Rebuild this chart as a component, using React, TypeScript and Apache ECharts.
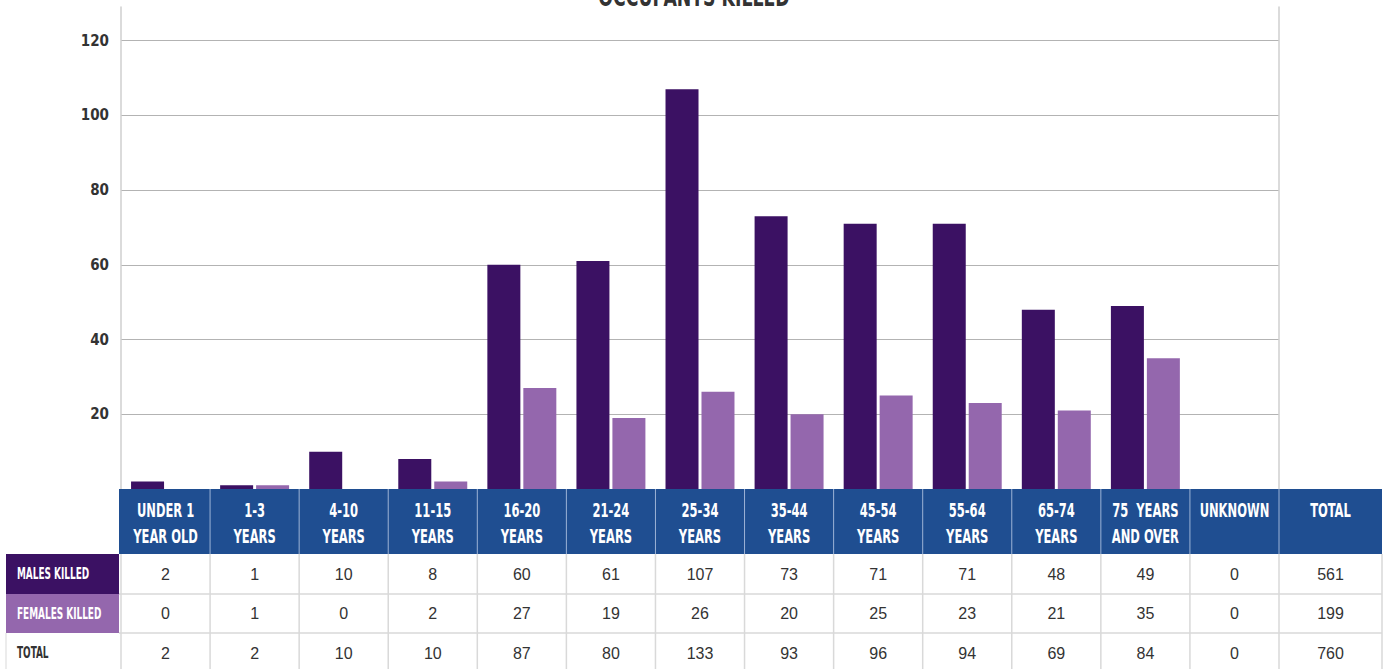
import React, { useEffect, useRef } from "react";
import * as echarts from "echarts";

const title = "OCCUPANTS KILLED";
const categories = [
  "UNDER 1\nYEAR OLD", "1-3\nYEARS", "4-10\nYEARS", "11-15\nYEARS", "16-20\nYEARS",
  "21-24\nYEARS", "25-34\nYEARS", "35-44\nYEARS", "45-54\nYEARS", "55-64\nYEARS",
  "65-74\nYEARS", "75  YEARS\nAND OVER", "UNKNOWN",
];
const totalHeader = "TOTAL";
const males = [2, 1, 10, 8, 60, 61, 107, 73, 71, 71, 48, 49, 0];
const females = [0, 1, 0, 2, 27, 19, 26, 20, 25, 23, 21, 35, 0];
const rowLabels = ["MALES KILLED", "FEMALES KILLED", "TOTAL"];
const yTicks = [20, 40, 60, 80, 100, 120];

const COND = "'DejaVu Sans Condensed', 'DejaVu Sans', sans-serif";
const MALE_C = "#3b1163";
const FEMALE_C = "#9467ad";
const BLUE = "#1f4e91";

export default function App() {
  const ref = useRef<HTMLDivElement>(null);
  useEffect(() => {
    document.body.style.margin = "0";
    const chart = echarts.init(ref.current!, null, { renderer: "svg" });
    chart.setOption({
      animation: false,
      grid: { left: 121, right: 106, top: 7, bottom: 180 },
      xAxis: {
        type: "category",
        data: categories,
        axisLine: { show: false },
        axisTick: { show: false },
        axisLabel: { show: false },
      },
      yAxis: [
        {
          type: "value",
          min: 0,
          max: 129,
          interval: 20,
          axisLine: { show: true, lineStyle: { color: "#cfcfcf", width: 1.5 } },
          axisTick: { show: false },
          splitLine: { show: true, showMaxLine: false, lineStyle: { color: "#b3b3b3", width: 1 } },
          axisLabel: {
            margin: 12,
            fontFamily: COND,
            fontWeight: "bold",
            fontSize: 15,
            color: "#333",
            formatter: (v: number) => (yTicks.indexOf(v) >= 0 ? String(v) : ""),
          },
        },
        {
          type: "value",
          min: 0,
          max: 129,
          interval: 20,
          position: "right",
          axisLine: { show: true, lineStyle: { color: "#cfcfcf", width: 1.5 } },
          axisTick: { show: false },
          axisLabel: { show: false },
          splitLine: { show: false },
        },
      ],
      series: [
        { name: "Males", type: "bar", data: males, barWidth: 33, barGap: "9%", itemStyle: { color: MALE_C } },
        { name: "Females", type: "bar", data: females, barWidth: 33, barGap: "9%", itemStyle: { color: FEMALE_C } },
      ],
    });

    // Build the data table from the chart's own axis scale
    const c0 = chart.convertToPixel({ xAxisIndex: 0 }, 0) as number;
    const c1 = chart.convertToPixel({ xAxisIndex: 0 }, 1) as number;
    const cw = c1 - c0;
    const left = c0 - cw / 2;
    const y0 = Math.round(chart.convertToPixel({ yAxisIndex: 0 }, 0) as number);
    const headerH = 65;
    const rowH = [40, 39, 40];
    const labelX = 6;
    const n = categories.length;
    const totalW = 103;
    const rightEnd = left + n * cw;
    const g: any[] = [];

    // title (partly cut off at the top, as in the source)
    g.push({
      type: "text",
      x: 694,
      y: 10,
      scaleX: 0.74,
      style: { text: title, fill: "#333333", font: `bold 26px ${COND}`, align: "center", verticalAlign: "bottom" },
      z: 12,
    });

    // header
    g.push({ type: "rect", shape: { x: left - 2, y: y0, width: rightEnd + totalW - (left - 2), height: headerH }, style: { fill: BLUE }, z: 10 });
    const headers = [...categories, totalHeader];
    headers.forEach((h, i) => {
      const x0 = left + i * cw;
      const w = i < n ? cw : totalW;
      if (i > 0) {
        g.push({ type: "line", shape: { x1: x0, y1: y0, x2: x0, y2: y0 + headerH }, style: { stroke: "#9db3d6", lineWidth: 1 }, z: 11 });
      }
      g.push({
        type: "text",
        x: x0 + w / 2,
        y: y0 + 8,
        scaleX: 0.64,
        style: {
          text: h,
          fill: "#ffffff",
          font: `bold 20px ${COND}`,
          align: "center",
          verticalAlign: "top",
          lineHeight: 26,
        },
        z: 12,
      });
    });

    // rows
    const totals = males.map((m, i) => m + females[i]);
    const sum = (a: number[]) => a.reduce((s, v) => s + v, 0);
    const rows = [
      [...males, sum(males)],
      [...females, sum(females)],
      [...totals, sum(totals)],
    ];
    const labelFill = [MALE_C, FEMALE_C, "#ffffff"];
    const labelText = ["#ffffff", "#ffffff", "#333333"];
    let y = y0 + headerH;
    rows.forEach((row, r) => {
      const h = rowH[r];
      g.push({ type: "rect", shape: { x: labelX, y, width: left - 2 - labelX, height: h }, style: { fill: labelFill[r] }, z: 10 });
      g.push({
        type: "text",
        x: labelX + 11,
        y: y + h / 2,
        scaleX: 0.62,
        style: { text: rowLabels[r], fill: labelText[r], font: `bold 16px ${COND}`, align: "left", verticalAlign: "middle" },
        z: 12,
      });
      row.forEach((v, i) => {
        const x0 = left + i * cw;
        const w = i < n ? cw : totalW;
        g.push({
          type: "text",
          x: x0 + w / 2,
          y: y + h / 2,
          style: { text: String(v), fill: "#333333", font: `16px 'Liberation Sans', Arial, sans-serif`, align: "center", verticalAlign: "middle" },
          z: 12,
        });
      });
      y += h;
      g.push({ type: "line", shape: { x1: r < 2 ? left - 2 : labelX, y1: y, x2: rightEnd + totalW, y2: y }, style: { stroke: "#d9d9d9", lineWidth: 1.5 }, z: 11 });
    });
    for (let i = 0; i <= n + 1; i++) {
      const x0 = i <= n ? left + i * cw : rightEnd + totalW;
      g.push({ type: "line", shape: { x1: x0, y1: y0 + headerH, x2: x0, y2: y }, style: { stroke: "#d9d9d9", lineWidth: 1.5 }, z: 11 });
    }
    g.push({ type: "line", shape: { x1: labelX, y1: y0 + headerH + rowH[0] + rowH[1], x2: labelX, y2: y }, style: { stroke: "#d9d9d9", lineWidth: 1 }, z: 11 });

    chart.setOption({ graphic: g });
    return () => chart.dispose();
  }, []);
  return <div ref={ref} style={{ width: 1385, height: 669 }} />;
}
